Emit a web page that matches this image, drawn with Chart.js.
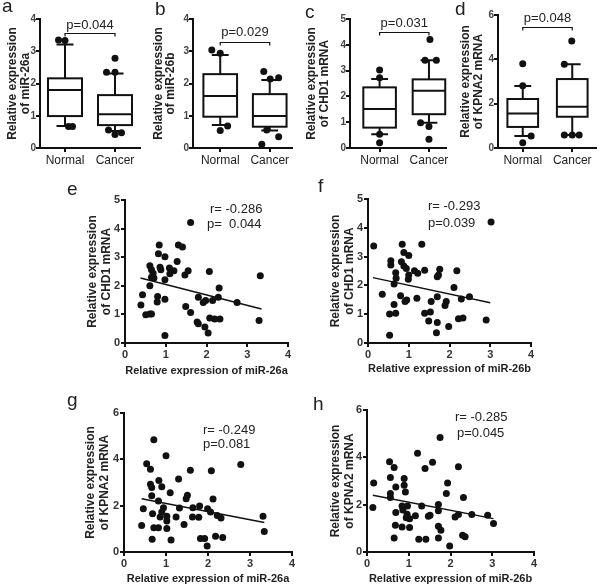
<!DOCTYPE html>
<html>
<head>
<meta charset="utf-8">
<script src="https://cdn.jsdelivr.net/npm/chart.js@4/dist/chart.umd.min.js"></script>
<style>
  body { margin: 0; background: #fff; width: 600px; height: 586px; position: relative; overflow: hidden;
         font-family: 'Liberation Sans', Arial, sans-serif; color: #222; }
  canvas { position: absolute; }
  .lab { position: absolute; font-size: 19px; }
  .note { position: absolute; font-size: 13px; white-space: pre; line-height: 14px; }
</style>
</head>
<body>
<canvas id="pa" width="148" height="175" style="left:0;top:0"></canvas>
<canvas id="pb" width="148" height="175" style="left:150px;top:0"></canvas>
<canvas id="pc" width="150" height="175" style="left:300px;top:0"></canvas>
<canvas id="pd" width="150" height="175" style="left:450px;top:0"></canvas>
<canvas id="pe" width="240" height="215" style="left:60px;top:165px"></canvas>
<canvas id="pf" width="240" height="215" style="left:305px;top:165px"></canvas>
<canvas id="pg" width="240" height="201" style="left:60px;top:385px"></canvas>
<canvas id="ph" width="240" height="201" style="left:305px;top:385px"></canvas>

<div class="lab" style="left:2px;top:-5px">a</div>
<div class="lab" style="left:155px;top:-2px">b</div>
<div class="lab" style="left:305px;top:1px">c</div>
<div class="lab" style="left:455px;top:-2px">d</div>
<div class="lab" style="left:67px;top:178px">e</div>
<div class="lab" style="left:318px;top:175px">f</div>
<div class="lab" style="left:67px;top:389px">g</div>
<div class="lab" style="left:313px;top:393px">h</div>

<div class="note" style="left:210px;top:202px">r= -0.286</div>
<div class="note" style="left:207px;top:217px">p=  0.044</div>
<div class="note" style="left:428px;top:199px">r= -0.293</div>
<div class="note" style="left:428px;top:216px">p=0.039</div>
<div class="note" style="left:203px;top:423px">r= -0.249</div>
<div class="note" style="left:203px;top:437px">p=0.081</div>
<div class="note" style="left:455px;top:410px">r= -0.285</div>
<div class="note" style="left:457px;top:426px">p=0.045</div>

<script>
// Box plot groups
const groups = ['Normal', 'Cancer'];

// Box stats: [lower whisker, Q1, median, Q3, upper whisker]
const mir26aNormal = [0.68, 0.99, 1.80, 2.16, 3.21];
const mir26aCancer = [0.53, 0.71, 1.05, 1.64, 2.31];
const mir26aDotX = [0.87, 1.00, 1.07, 1.15, 2.00, 1.83, 2.00, 1.87, 2.00, 2.13];
const mir26aDotY = [3.35, 3.33, 0.67, 0.67, 2.78, 2.35, 2.35, 0.56, 0.42, 0.47];

const mir26bNormal = [0.71, 0.97, 1.61, 2.29, 2.88];
const mir26bCancer = [0.54, 0.66, 0.99, 1.67, 2.11];
const mir26bDotX = [0.83, 1.00, 1.00, 1.15, 1.88, 2.01, 2.18, 1.94, 2.18, 1.84];
const mir26bDotY = [3.04, 2.94, 0.54, 0.68, 2.37, 2.14, 2.18, 0.56, 0.35, 0.12];

const chd1Normal = [0.53, 0.79, 1.51, 2.35, 2.67];
const chd1Cancer = [0.98, 1.31, 2.22, 2.66, 3.40];
const chd1DotX = [1.00, 1.00, 1.00, 1.00, 2.02, 1.92, 2.15, 1.83, 2.00, 2.00];
const chd1DotY = [3.02, 2.72, 0.53, 0.20, 4.21, 3.40, 3.40, 0.98, 0.83, 0.34];

const kpna2Normal = [0.54, 0.95, 1.56, 2.21, 2.80];
const kpna2Cancer = [0.59, 1.41, 1.86, 3.11, 3.78];
const kpna2DotX = [1.00, 1.00, 1.17, 1.00, 1.99, 1.84, 1.84, 2.00, 2.14];
const kpna2DotY = [3.80, 2.81, 0.54, 0.24, 4.83, 3.78, 0.59, 0.59, 0.59];

// Scatter e: miR-26a vs CHD1
const eX = [1.61,0.84,1.31,1.41,0.82,0.98,0.61,0.86,0.88,1.09,1.28,0.65,1.20,1.10,1.55,1.47,0.69,0.65,0.71,0.98,2.07,3.32,0.61,2.31,0.43,0.80,0.98,1.80,2.29,0.79,1.98,1.92,2.15,2.75,0.39,1.49,1.61,0.51,0.61,0.65,1.77,1.80,2.08,2.20,2.33,1.96,2.04,0.98,3.29];
const eY = [4.21,3.43,3.43,3.36,3.12,3.02,2.70,2.65,2.56,2.62,2.85,2.56,2.53,2.42,2.53,2.38,2.44,2.30,2.27,2.21,2.50,2.35,2.00,1.92,1.69,1.63,1.53,1.60,1.60,1.43,1.49,1.42,1.49,1.42,1.33,1.28,1.07,0.99,1.01,1.01,0.73,0.67,0.87,0.84,0.84,0.56,0.35,0.26,0.79];
const eFitX = [0.38, 3.35];
const eFitY = [2.27, 1.19];

// Scatter f: miR-26b vs CHD1
const fX = [3.02,0.14,0.84,1.32,0.88,1.00,0.56,0.56,0.82,0.88,0.94,0.68,1.14,1.22,1.39,1.76,2.18,1.00,0.99,0.69,1.73,1.70,0.64,2.11,0.35,0.80,1.20,1.70,2.49,2.29,0.95,0.91,1.55,1.92,1.89,0.64,0.53,0.68,1.39,1.53,1.49,1.70,2.22,2.33,2.90,1.98,1.68,0.53];
const fY = [4.20,3.37,3.43,3.43,3.14,3.04,2.86,2.71,2.82,2.67,2.59,2.44,2.51,2.42,2.53,2.56,2.51,2.36,2.21,2.25,2.36,2.30,2.05,1.93,1.69,1.64,1.55,1.61,1.61,1.53,1.49,1.44,1.44,1.44,1.30,1.34,1.01,1.03,1.03,1.08,0.76,0.71,0.84,0.87,0.80,0.57,0.36,0.27];
const fFitX = [0.12, 3.00];
const fFitY = [2.27, 1.40];

// Scatter g: miR-26a vs KPNA2
const gX = [0.71,1.00,0.54,0.63,1.58,2.08,2.78,1.30,0.63,0.66,0.83,0.90,1.10,1.51,1.48,0.66,0.82,2.12,0.46,1.32,0.94,1.64,1.80,1.99,2.06,0.90,0.68,1.02,0.86,1.24,1.63,1.78,2.22,2.31,3.31,0.42,1.43,1.02,0.71,0.82,1.02,3.34,0.67,1.12,1.82,1.92,2.18,2.35,1.98];
const gY = [4.85,4.16,3.81,3.57,3.53,3.51,3.78,3.15,2.92,2.78,3.09,2.82,2.56,2.45,2.30,2.43,2.20,2.29,1.87,1.90,1.91,1.91,1.99,1.87,1.73,1.73,1.65,1.54,1.51,1.51,1.51,1.50,1.58,1.47,1.54,1.14,1.19,1.34,1.05,1.05,1.01,0.89,0.55,0.52,0.58,0.58,0.68,0.63,0.26];
const gFitX = [0.42, 3.34];
const gFitY = [2.30, 1.27];

// Scatter h: miR-26b vs KPNA2
const hX = [1.75,1.21,1.57,1.39,2.19,0.54,0.65,0.56,0.89,0.16,1.93,0.69,0.89,0.92,1.90,0.56,0.56,2.31,0.14,1.31,0.84,0.97,1.71,1.71,0.86,0.69,0.96,1.16,1.47,1.51,2.11,2.19,2.51,2.89,0.94,1.02,3.03,0.68,0.84,1.02,1.71,1.77,0.65,1.24,1.41,1.71,2.29,2.35,1.98];
const hY = [4.84,4.17,3.79,3.53,3.60,3.81,3.57,3.15,3.11,2.92,2.92,2.75,2.82,2.54,2.47,2.47,2.30,2.30,1.88,1.94,1.94,1.94,2.01,1.74,1.77,1.67,1.60,1.53,1.51,1.55,1.48,1.58,1.58,1.55,1.45,1.41,1.20,1.13,1.06,1.03,1.09,0.92,0.59,0.54,0.54,0.59,0.71,0.64,0.25];
const hFitX = [0.14, 3.03];
const hFitY = [2.40, 1.41];

const FONT = "'Liberation Sans', Arial, sans-serif";
Chart.defaults.font.family = FONT;
Chart.defaults.animation = false;

function toPoints(xs, ys) {
    return xs.map((x, i) => ({ x: x, y: ys[i] }));
}

// draws boxes and whiskers from the stats arrays
const boxPlugin = {
    id: 'boxes',
    beforeDatasetsDraw(chart, args, opts) {
        const { ctx, scales: { x, y } } = chart;
        ctx.save();
        ctx.strokeStyle = '#111';
        ctx.lineWidth = 2;
        opts.stats.forEach((s, i) => {
            const cx = x.getPixelForValue(i + 1);
            const hw = x.getPixelForValue(i + 1 + opts.half) - cx;
            const cw = x.getPixelForValue(i + 1 + opts.cap) - cx;
            const [lo, q1, med, q3, hi] = s.map(v => y.getPixelForValue(v));
            ctx.fillStyle = '#fff';
            ctx.fillRect(cx - hw, q3, 2 * hw, q1 - q3);
            ctx.strokeRect(cx - hw, q3, 2 * hw, q1 - q3);
            ctx.beginPath();
            ctx.moveTo(cx - hw, med); ctx.lineTo(cx + hw, med);
            ctx.moveTo(cx, q3); ctx.lineTo(cx, hi);
            ctx.moveTo(cx - cw, hi); ctx.lineTo(cx + cw, hi);
            ctx.moveTo(cx, q1); ctx.lineTo(cx, lo);
            ctx.moveTo(cx - cw, lo); ctx.lineTo(cx + cw, lo);
            ctx.stroke();
        });
        ctx.restore();
    }
};

// significance bracket between the two groups
const bracketPlugin = {
    id: 'bracket',
    afterDraw(chart, args, opts) {
        const { ctx, scales: { x, y } } = chart;
        const x1 = x.getPixelForValue(1), x2 = x.getPixelForValue(2);
        const yy = Math.round(y.getPixelForValue(opts.level)) + 0.5;
        ctx.save();
        ctx.strokeStyle = '#111';
        ctx.lineWidth = 1.2;
        ctx.beginPath();
        ctx.moveTo(x1, yy + 3); ctx.lineTo(x1, yy); ctx.lineTo(x2, yy); ctx.lineTo(x2, yy + 3);
        ctx.stroke();
        ctx.font = '13px ' + FONT;
        ctx.fillStyle = '#222';
        ctx.textAlign = 'center';
        ctx.textBaseline = 'middle';
        ctx.fillText(opts.text, (x1 + x2) / 2, yy - opts.gap);
        ctx.restore();
    }
};

function axisStyle() {
    return {
        grid: { drawOnChartArea: false, tickLength: 4, color: '#111', lineWidth: 2 },
        border: { color: '#111', width: 2 }
    };
}

function makeBox(id, c) {
    new Chart(document.getElementById(id), {
        type: 'scatter',
        data: {
            datasets: [{
                data: toPoints(c.dotX, c.dotY),
                pointRadius: 3.5,
                backgroundColor: '#111',
                borderWidth: 0
            }]
        },
        options: {
            responsive: false,
            devicePixelRatio: 1,
            layout: { padding: { top: c.padTop, right: c.padRight, bottom: 0, left: 0 } },
            plugins: {
                legend: { display: false },
                tooltip: { enabled: false },
                boxes: { stats: c.stats, half: c.half, cap: 0.17 },
                bracket: { level: c.level, gap: c.gap, text: c.pText }
            },
            scales: {
                x: {
                    type: 'linear', min: c.xMin, max: c.xMax,
                    afterBuildTicks: s => { s.ticks = [{ value: 1 }, { value: 2 }]; },
                    afterFit: s => { s.height = c.xH; },
                    ticks: { callback: v => groups[v - 1], font: { size: 12 }, color: '#222', padding: 1, maxRotation: 0, autoSkip: false },
                    ...axisStyle()
                },
                y: {
                    min: 0, max: c.yMax,
                    afterFit: s => { s.width = c.yW; },
                    ticks: { stepSize: c.step, font: { size: 10, weight: 'bold' }, color: '#444', padding: 0 },
                    title: { display: true, text: c.yTitle, font: { size: 12, weight: 'bold', lineHeight: 1.05 }, color: '#222', padding: { top: c.titlePad, bottom: 0 } },
                    ...axisStyle()
                }
            }
        },
        plugins: [boxPlugin, bracketPlugin]
    });
}

function makeScatter(id, c) {
    new Chart(document.getElementById(id), {
        type: 'scatter',
        data: {
            datasets: [{
                data: toPoints(c.xs, c.ys),
                pointRadius: 3.5,
                backgroundColor: '#111',
                borderWidth: 0
            }, {
                type: 'line',
                data: toPoints(c.fitX, c.fitY),
                borderColor: '#111',
                borderWidth: 1.5,
                pointRadius: 0,
                fill: false
            }]
        },
        options: {
            responsive: false,
            devicePixelRatio: 1,
            layout: { padding: { top: c.padTop, right: c.padRight, bottom: 0, left: 0 } },
            plugins: { legend: { display: false }, tooltip: { enabled: false } },
            scales: {
                x: {
                    min: 0, max: 4,
                    afterFit: s => { s.height = c.xH; },
                    ticks: { stepSize: 1, font: { size: 11, weight: 'bold' }, color: '#333', padding: 1 },
                    title: { display: true, text: c.xTitle, font: { size: 11, weight: 'bold' }, color: '#222', padding: { top: 0, bottom: c.xTitlePad } },
                    ...axisStyle()
                },
                y: {
                    min: 0, max: c.yMax,
                    afterFit: s => { s.width = c.yW; },
                    ticks: { stepSize: c.step, font: { size: 11, weight: 'bold' }, color: '#333', padding: 1 },
                    title: { display: true, text: c.yTitle, font: { size: 12, weight: 'bold' }, color: '#222', padding: { top: c.titlePad, bottom: 0 } },
                    ...axisStyle()
                }
            }
        }
    });
}

makeBox('pa', { stats: [mir26aNormal, mir26aCancer], dotX: mir26aDotX, dotY: mir26aDotY,
    xMin: 0.5, xMax: 2.5, yMax: 4, step: 1, half: 0.34, level: 3.57, gap: 8, pText: 'p=0.044',
    yTitle: ['Relative expression', 'of miR-26a'], padTop: 19, padRight: 8, xH: 27, yW: 40, titlePad: 6.7 });
makeBox('pb', { stats: [mir26bNormal, mir26bCancer], dotX: mir26bDotX, dotY: mir26bDotY,
    xMin: 0.45, xMax: 2.45, yMax: 4, step: 1, half: 0.34, level: 3.29, gap: 10, pText: 'p=0.029',
    yTitle: ['Relative expression', 'of miR-26b'], padTop: 19, padRight: 6, xH: 27, yW: 43, titlePad: 2 });
makeBox('pc', { stats: [chd1Normal, chd1Cancer], dotX: chd1DotX, dotY: chd1DotY,
    xMin: 0.4, xMax: 2.34, yMax: 5, step: 1, half: 0.33, level: 4.5, gap: 9, pText: 'p=0.031',
    yTitle: ['Relative expression', 'of CHD1 mRNA'], padTop: 19, padRight: 3, xH: 27, yW: 50, titlePad: 5.7 });
makeBox('pd', { stats: [kpna2Normal, kpna2Cancer], dotX: kpna2DotX, dotY: kpna2DotY,
    xMin: 0.5, xMax: 2.48, yMax: 6, step: 2, half: 0.31, level: 5.46, gap: 9, pText: 'p=0.048',
    yTitle: ['Relative expression', 'of KPNA2 mRNA'], padTop: 15, padRight: 3, xH: 27, yW: 48, titlePad: 9.7 });

makeScatter('pe', { xs: eX, ys: eY, fitX: eFitX, fitY: eFitY, yMax: 5, step: 1,
    xTitle: 'Relative expression of miR-26a', yTitle: ['Relative expression', 'of CHD1 mRNA'],
    padTop: 35, padRight: 12, xH: 37, yW: 65, titlePad: 25, xTitlePad: 2 });
makeScatter('pf', { xs: fX, ys: fY, fitX: fFitX, fitY: fFitY, yMax: 5, step: 1,
    xTitle: 'Relative expression of miR-26b', yTitle: ['Relative expression', 'of CHD1 mRNA'],
    padTop: 34, padRight: 14, xH: 37, yW: 63, titlePad: 23, xTitlePad: 4 });
makeScatter('pg', { xs: gX, ys: gY, fitX: gFitX, fitY: gFitY, yMax: 6, step: 2,
    xTitle: 'Relative expression of miR-26a', yTitle: ['Relative expression', 'of KPNA2 mRNA'],
    padTop: 28, padRight: 8, xH: 34, yW: 64, titlePad: 23, xTitlePad: 0 });
makeScatter('ph', { xs: hX, ys: hY, fitX: hFitX, fitY: hFitY, yMax: 6, step: 2,
    xTitle: 'Relative expression of miR-26b', yTitle: ['Relative expression', 'of KPNA2 mRNA'],
    padTop: 25, padRight: 11, xH: 34, yW: 62, titlePad: 23, xTitlePad: 0 });
</script>
</body>
</html>
